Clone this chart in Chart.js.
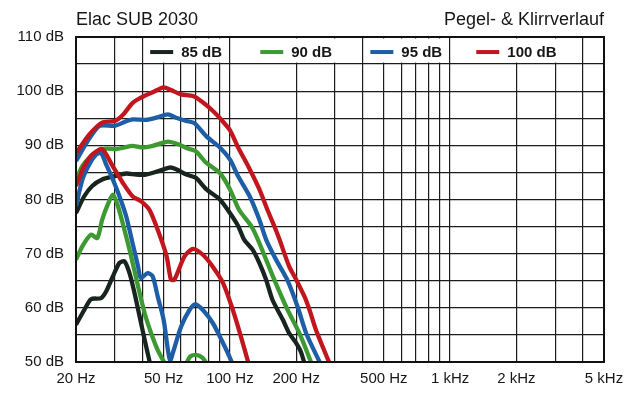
<!DOCTYPE html>
<html>
<head>
<meta charset="utf-8">
<script src="https://cdn.jsdelivr.net/npm/chart.js@4.4.1/dist/chart.umd.min.js"></script>
<style>
  html, body { margin: 0; padding: 0; background: #fff; }
  canvas { display: block; }
</style>
</head>
<body>
<canvas id="chart" width="640" height="400"></canvas>
<script>
// --- axis data ---
const xGridHz = [20, 30, 40, 50, 60, 70, 80, 90, 100, 200, 300, 400, 500, 600, 700, 800, 900, 1000, 2000, 3000, 4000, 5000];
const xLabelHz = [20, 50, 100, 200, 500, 1000, 2000, 5000];
const xLabelText = ["20 Hz", "50 Hz", "100 Hz", "200 Hz", "500 Hz", "1 kHz", "2 kHz", "5 kHz"];

// --- legend ---
const levelNames = ["85 dB", "90 dB", "95 dB", "100 dB"];
const levelColors = ["#17251e", "#3d9a33", "#1d5ea7", "#c2161e"];
const legendSpans = [[40, 100], [100, 400], [400, 1000], [1000, 4000]];

// --- level curves (fundamental) ---
const fund85Hz = [20, 21.8, 23.7, 26.3, 30, 33.8, 37.5, 41.6, 47, 53.2, 57, 63.5, 70, 78, 90, 100, 109, 116, 127, 136, 146, 156, 174, 186, 200, 210, 219];
const fund85Db = [77.5, 80.6, 82.5, 83.7, 84.3, 84.8, 84.6, 84.6, 85.2, 85.9, 85.6, 84.6, 84, 81.9, 80, 77.5, 75.1, 72.6, 70.7, 68.3, 65.2, 61.5, 57.8, 55.3, 53.5, 51.9, 49.5];

const fund90Hz = [20, 21.4, 23, 25, 27.4, 30.5, 33.2, 36.1, 40, 44.6, 52.3, 58.3, 64.5, 70, 78, 90, 100, 110, 125, 134, 159, 180, 200, 207, 218, 236];
const fund90Db = [83.7, 86.2, 87.7, 88.9, 89.4, 89.3, 89.6, 89.9, 89.6, 89.9, 90.7, 90.2, 89.4, 88.9, 86.8, 84.9, 81.9, 78.1, 75.1, 72.6, 65.2, 60.2, 56.5, 55.3, 53.1, 49.5];

const fund95Hz = [20, 22.6, 25.6, 30, 33.2, 36.1, 41.6, 46.2, 52.3, 56.9, 63.5, 69, 78, 90, 100, 109, 123, 136, 146, 162, 182, 203, 222, 259];
const fund95Db = [87.1, 90.8, 93.6, 93.6, 94.3, 94.8, 94.7, 95.1, 95.7, 95.1, 94.5, 94.1, 91.7, 89.6, 87.4, 84.3, 80.6, 76.3, 72.6, 68.9, 65.2, 60.2, 55.3, 49.5];

const fund100Hz = [20, 23, 26.3, 30, 32.6, 36.1, 39.4, 44.6, 50, 54, 60, 68, 75, 84, 92, 100, 109, 123, 136, 148, 159, 168, 186, 200, 218, 230, 246, 264, 285];
const fund100Db = [88.5, 92, 94.2, 94.5, 95.6, 97.8, 98.8, 99.8, 100.7, 100.2, 99.4, 99.1, 98, 96.3, 94.6, 92.8, 89.6, 85.6, 81.9, 78.1, 75.1, 72.6, 67.6, 65.2, 62.1, 59.6, 55.9, 52.8, 49.5];

// --- distortion curves (Klirr) ---
const thd85Hz = [20, 21.8, 23.4, 26, 27.4, 29.4, 31.5, 33.2, 35, 36.9, 38.9, 41, 43.5];
const thd85Db = [56.9, 59.6, 61.6, 61.8, 63, 65.8, 68.3, 68.6, 66.4, 62.7, 58.4, 54.1, 49.5];

const thd90Hz = [20, 21.4, 23.4, 25, 26.3, 27.9, 29.4, 31, 33.2, 35.6, 38.3, 41, 43.9, 47, 51, 57, 63, 66, 70, 75, 79];
const thd90Db = [68.9, 71.4, 73.5, 72.9, 76.3, 79.1, 80.9, 78.8, 74.4, 69.5, 63.9, 59, 55.3, 52.2, 49.5, null, 49.5, 51, 51.3, 50.8, 49.5];

const thd95Hz = [20, 21.4, 23, 24.7, 26, 27.4, 29.4, 31.5, 33.8, 36.1, 38.3, 39.4, 42.3, 44.6, 47, 50, 52.3, 53.5, 55, 60, 65.5, 69.7, 75.4, 83.6, 91.5, 99.5, 103];
const thd95Db = [78.8, 83.7, 86.5, 88.3, 88.6, 86.5, 83.7, 80.6, 76.9, 72, 67.6, 65.5, 66.4, 65.8, 62.1, 57.8, 52.2, 50.2, 51.6, 56.5, 59.6, 60.7, 59.6, 57.2, 54.1, 51, 49.5];

const thd100Hz = [20, 21.8, 23.7, 26.3, 29.3, 32.6, 36.1, 39.4, 43.1, 47, 51.6, 54, 56, 62.2, 68, 75.4, 83.6, 93, 102, 110, 122];
const thd100Db = [82.5, 86.2, 88.3, 89.3, 86.2, 83.1, 80.6, 79.7, 78.1, 74.4, 69.5, 65.2, 65.2, 69.5, 70.9, 69.8, 67.6, 64.6, 60.2, 55.9, 49.5];

const fontFamily = "'Liberation Sans', Arial, Helvetica, sans-serif";
const textColor = "#161616";
const gridColor = "#1c1c1c";

function pts(hz, db) {
  return hz.map((f, i) => ({ x: f, y: db[i] }));
}

function series(hz, db, color) {
  return {
    data: pts(hz, db),
    borderColor: color,
    borderWidth: 4.3,
    pointRadius: 0,
    tension: 0.25,
    spanGaps: false,
    clip: 0,
    fill: false,
  };
}

// index 0 is painted last (on top)
const datasets = [
  series(fund100Hz, fund100Db, levelColors[3]),
  series(thd100Hz, thd100Db, levelColors[3]),
  series(fund95Hz, fund95Db, levelColors[2]),
  series(thd95Hz, thd95Db, levelColors[2]),
  series(fund90Hz, fund90Db, levelColors[1]),
  series(thd90Hz, thd90Db, levelColors[1]),
  series(fund85Hz, fund85Db, levelColors[0]),
  series(thd85Hz, thd85Db, levelColors[0]),
];

// white legend boxes in the top row + frame + titles
const decorPlugin = {
  id: "decor",
  beforeDatasetsDraw(chart) {
    const c = chart.ctx;
    const xs = chart.scales.x, ys = chart.scales.y;
    const y1 = ys.getPixelForValue(110) + 1.5;
    const y2 = ys.getPixelForValue(105) - 1.5;
    const mid = (y1 + y2) / 2 + 1.5;
    c.save();
    c.font = "bold 15px " + fontFamily;
    c.textBaseline = "middle";
    legendSpans.forEach((sp, i) => {
      const x1 = xs.getPixelForValue(sp[0]) + 1.5;
      const x2 = xs.getPixelForValue(sp[1]) - 1.5;
      c.fillStyle = "#fff";
      c.fillRect(x1, y1, x2 - x1, y2 - y1);
      const tw = c.measureText(levelNames[i]).width;
      const total = 23 + 8 + tw;
      const sx = (x1 + x2) / 2 - total / 2;
      c.strokeStyle = levelColors[i];
      c.lineWidth = 4;
      c.beginPath();
      c.moveTo(sx, mid);
      c.lineTo(sx + 23, mid);
      c.stroke();
      c.fillStyle = textColor;
      c.textAlign = "left";
      c.fillText(levelNames[i], sx + 31, mid + 0.5);
    });
    c.restore();
  },
  afterDraw(chart) {
    const c = chart.ctx;
    const a = chart.chartArea;
    c.save();
    c.strokeStyle = "#111";
    c.lineWidth = 2;
    c.strokeRect(a.left, a.top, a.right - a.left, a.bottom - a.top);
    c.fillStyle = textColor;
    c.font = "18px " + fontFamily;
    c.textBaseline = "alphabetic";
    c.textAlign = "left";
    c.fillText("Elac SUB 2030", a.left, 25);
    c.textAlign = "right";
    c.fillText("Pegel- & Klirrverlauf", a.right, 25);
    c.restore();
  },
};

new Chart(document.getElementById("chart"), {
  type: "line",
  data: { datasets },
  options: {
    responsive: false,
    animation: false,
    devicePixelRatio: 1,
    layout: { padding: { left: 0, right: 36, top: 37, bottom: 0 } },
    plugins: {
      legend: { display: false },
      tooltip: { enabled: false },
      title: { display: false },
    },
    scales: {
      x: {
        type: "logarithmic",
        min: 20,
        max: 5000,
        afterBuildTicks: (axis) => {
          axis.ticks = xGridHz.map((v) => ({ value: v }));
        },
        afterFit: (axis) => { axis.height = 38; },
        border: { display: false },
        grid: { color: gridColor, lineWidth: 1.2, drawTicks: false },
        ticks: {
          autoSkip: false,
          maxRotation: 0,
          padding: 8,
          color: textColor,
          font: { family: fontFamily, size: 15 },
          callback: (v) => {
            const i = xLabelHz.indexOf(Number(v));
            return i >= 0 ? xLabelText[i] : "";
          },
        },
      },
      y: {
        type: "linear",
        min: 50,
        max: 110,
        afterFit: (axis) => { axis.width = 76; },
        border: { display: false },
        grid: { color: gridColor, lineWidth: 1.2, drawTicks: false },
        ticks: {
          stepSize: 5,
          autoSkip: false,
          padding: 12,
          color: textColor,
          font: { family: fontFamily, size: 15 },
          callback: (v) => (v % 10 === 0 ? v + " dB" : ""),
        },
      },
    },
  },
  plugins: [decorPlugin],
});
</script>
</body>
</html>
